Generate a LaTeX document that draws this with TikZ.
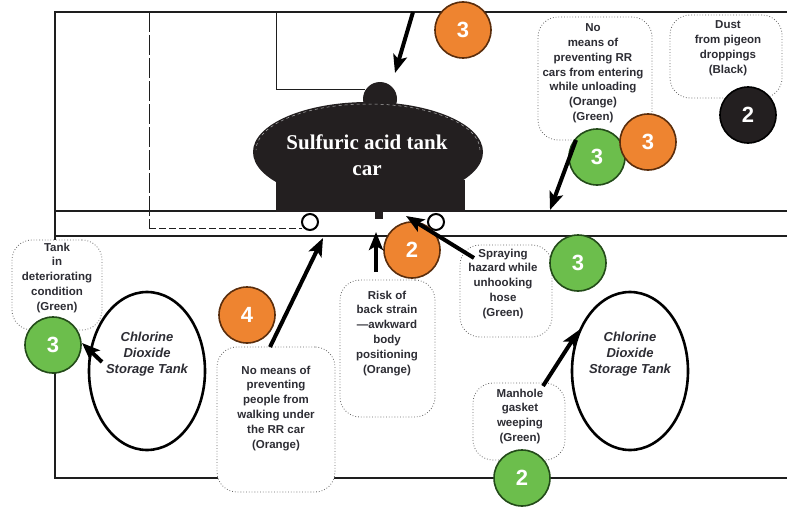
\documentclass[tikz,border=0pt]{standalone}
\usepackage{fontspec}
\setmainfont{Liberation Serif}
\setsansfont{Liberation Sans}
\usetikzlibrary{arrows.meta,shapes.geometric,calc}

\definecolor{riskorange}{RGB}{238,132,48}
\definecolor{riskorangeedge}{RGB}{90,45,12}
\definecolor{riskgreen}{RGB}{108,190,76}
\definecolor{riskgreenedge}{RGB}{35,75,25}
\definecolor{riskblack}{RGB}{35,31,32}
\definecolor{labeltext}{RGB}{45,45,52}
\definecolor{wall}{RGB}{30,30,30}

\tikzset{
  wallline/.style={draw=wall, line width=2.6pt},
  railline/.style={draw=wall, line width=2.5pt},
  thinline/.style={draw=wall, line width=1pt},
  note/.style={rectangle, draw=black!60, dotted, line width=0.8pt,
    rounded corners=20pt, fill=white, inner sep=0pt},
  notetext/.style={font=\sffamily\bfseries\fontsize{11.5}{14.8}\selectfont,
    text=labeltext, align=center, inner sep=0pt, anchor=north},
  rating/.style={circle, minimum size=56pt, inner sep=0pt, line width=1.6pt,
    font=\sffamily\bfseries\fontsize{22}{22}\selectfont, text=white},
  orangerating/.style={rating, fill=riskorange, draw=riskorangeedge},
  greenrating/.style={rating, fill=riskgreen, draw=riskgreenedge},
  blackrating/.style={rating, fill=riskblack, draw=black},
  pointer/.style={draw=black, line width=4pt,
    -{Stealth[length=18pt,width=14pt,inset=4pt]}},
  storagetank/.style={ellipse, draw=black, line width=2.6pt,
    minimum width=116pt, minimum height=158pt, fill=white, inner sep=0pt},
  tanktext/.style={font=\sffamily\bfseries\itshape\fontsize{13}{16}\selectfont,
    text=labeltext, align=center, inner sep=0pt},
  wheel/.style={circle, draw=black, fill=white, line width=2pt,
    minimum size=16pt, inner sep=0pt},
}

\begin{document}
\begin{tikzpicture}[x=1pt,y=-1pt]
\useasboundingbox (0,0) rectangle (787,511);
\fill[white] (0,0) rectangle (787,511);

% building walls
\coordinate (wallTL) at (55,12);
\coordinate (wallTR) at (787,12);
\coordinate (wallBL) at (55,478);
\coordinate (wallBR) at (787,478);
\draw[wallline] (wallTR) -- (wallTL) -- (wallBL) -- (wallBR);

% rail track
\coordinate (railAL) at (55,211);
\coordinate (railAR) at (787,211);
\coordinate (railBL) at (55,236);
\coordinate (railBR) at (787,236);
\draw[railline] (railAL) -- (railAR);
\draw[railline] (railBL) -- (railBR);

% unloading area outlines
\draw[thinline, dash pattern=on 20pt off 3pt] (149,12) -- (149,228);
\draw[thinline, dash pattern=on 7pt off 3pt] (149,228) -- (302,228);
\draw[thinline] (276,12) -- (276,89) -- (365,89);

% tank car body
\fill[riskblack] (368,152) ellipse [x radius=115pt, y radius=50pt];
\fill[riskblack] (380,99) circle [radius=17pt];
\fill[riskblack] (276,180) rectangle (465,212);
\draw[black!30, dashed, line width=0.5pt]
  (480,150) arc[start angle=0, end angle=180, x radius=112pt, y radius=46pt];
\fill[riskblack] (375,210) rectangle (383,219);
\node[wheel] (wheelL) at (310,222) {};
\node[wheel] (wheelR) at (436,222) {};
\node[font=\bfseries\fontsize{21}{26}\selectfont, text=white, align=center,
  inner sep=0pt] (car) at (367,155) {Sulfuric acid tank\\car};

% chlorine dioxide storage tanks
\node[storagetank] (tankL) at (147,371) {};
\node[tanktext] (tankLtxt) at (147,354) {Chlorine\\Dioxide\\Storage Tank};
\node[storagetank] (tankR) at (630,371) {};
\node[tanktext] (tankRtxt) at (630,354) {Chlorine\\Dioxide\\Storage Tank};

% hazard notes
\node[note, minimum width=114pt, minimum height=123pt] (noteA) at (595,78.5) {};
\node[notetext] (noteAtxt) at (593,23.5)
  {No\\means of\\preventing RR\\cars from entering\\while unloading\\(Orange)\\(Green)};
\node[note, minimum width=112pt, minimum height=83pt] (noteB) at (726,56.5) {};
\node[notetext] (noteBtxt) at (728,20.5) {Dust\\from pigeon\\droppings\\(Black)};
\node[note, minimum width=90pt, minimum height=90pt] (noteC) at (57,285) {};
\node[notetext] (noteCtxt) at (57,242.5) {Tank\\in\\deteriorating\\condition\\(Green)};
\node[note, minimum width=118pt, minimum height=145pt] (noteD) at (276,419.5) {};
\node[notetext] (noteDtxt) at (276,365.5)
  {No means of\\preventing\\people from\\walking under\\the RR car\\(Orange)};
\node[note, minimum width=95pt, minimum height=137pt] (noteE) at (387.5,348.5) {};
\node[notetext] (noteEtxt) at (387,290.5)
  {Risk of\\back strain\\—awkward\\body\\positioning\\(Orange)};
\node[note, minimum width=92pt, minimum height=92pt] (noteF) at (506,291) {};
\node[notetext] (noteFtxt) at (503,248.5)
  {Spraying\\hazard while\\unhooking\\hose\\(Green)};
\node[note, minimum width=92pt, minimum height=77pt] (noteG) at (519,421.5) {};
\node[notetext] (noteGtxt) at (520,388.5) {Manhole\\gasket\\weeping\\(Green)};

% risk ratings
\node[greenrating] (rateTank) at (53,345) {3};
\node[orangerating] (rateWalk) at (247,315) {4};
\node[orangerating] (rateBack) at (412,250) {2};
\node[greenrating] (rateSpray) at (578,263) {3};
\node[greenrating] (rateGasket) at (522,478) {2};
\node[greenrating] (rateCarsG) at (597,157) {3};
\node[orangerating] (rateCarsO) at (648,142) {3};
\node[blackrating] (rateDust) at (748,115) {2};
\node[orangerating] (rateTop) at (463,30) {3};

% pointers
\coordinate (p1s) at (413,12);  \coordinate (p1e) at (395,73);
\coordinate (p2s) at (576,140); \coordinate (p2e) at (550,210);
\coordinate (p3s) at (270,347); \coordinate (p3e) at (323,238);
\coordinate (p4s) at (376,272); \coordinate (p4e) at (376,232);
\coordinate (p5s) at (474,258); \coordinate (p5e) at (406,216);
\coordinate (p6s) at (102,362); \coordinate (p6e) at (82,343);
\coordinate (p7s) at (543,386); \coordinate (p7e) at (579,330);
\draw[pointer] (p1s) -- (p1e);
\draw[pointer] (p2s) -- (p2e);
\draw[pointer] (p3s) -- (p3e);
\draw[pointer] (p4s) -- (p4e);
\draw[pointer] (p5s) -- (p5e);
\draw[pointer] (p6s) -- (p6e);
\draw[pointer] (p7s) -- (p7e);
\end{tikzpicture}
\end{document}
